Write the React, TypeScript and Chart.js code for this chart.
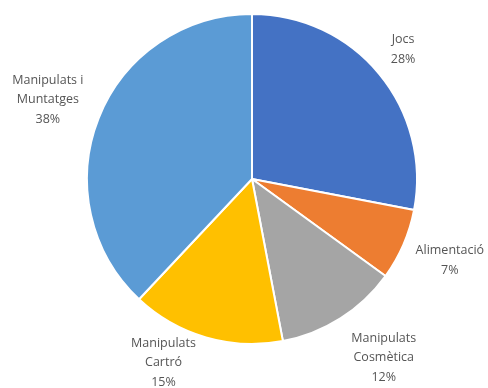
import React, { useEffect, useRef } from "react";
import { Chart, registerables } from "chart.js";

Chart.register(...registerables);

const categories: string[][] = [
  ["Jocs"],
  ["Alimentació"],
  ["Manipulats", "Cosmètica"],
  ["Manipulats", "Cartró"],
  ["Manipulats i", "Muntatges"],
];
const values: number[] = [28, 7, 12, 15, 38];
const colors: string[] = ["#4472C4", "#ED7D31", "#A5A5A5", "#FFC000", "#5B9BD5"];
// label placement: extra radial distance (px) and angle shift (deg) from slice mid-angle
const labelDr: number[] = [34, 49, 57, 39, 54];
const labelDa: number[] = [-1, -1, -4, 9.5, -0.4];

const labelPlugin = {
  id: "outerLabels",
  afterDatasetsDraw(chart: any) {
    const ctx = chart.ctx;
    const meta = chart.getDatasetMeta(0);
    const total = values.reduce((a, b) => a + b, 0);
    ctx.save();
    ctx.font = "12.5px 'Open Sans'";
    ctx.fillStyle = "#555555";
    ctx.textAlign = "center";
    ctx.textBaseline = "middle";
    meta.data.forEach((arc: any, i: number) => {
      const { x, y, startAngle, endAngle, outerRadius } = arc.getProps(
        ["x", "y", "startAngle", "endAngle", "outerRadius"],
        true
      );
      const mid = (startAngle + endAngle) / 2 + (labelDa[i] * Math.PI) / 180;
      const r = outerRadius + labelDr[i];
      const cx = x + Math.cos(mid) * r;
      const cy = y + Math.sin(mid) * r;
      const lines = [...categories[i], Math.round((values[i] / total) * 100) + "%"];
      const lh = 19.5;
      const y0 = cy - ((lines.length - 1) * lh) / 2;
      lines.forEach((t, k) => ctx.fillText(t, cx, y0 + k * lh));
    });
    ctx.restore();
  },
};

export default function App() {
  const ref = useRef<HTMLCanvasElement | null>(null);
  useEffect(() => {
    if (!ref.current) return;
    const chart = new Chart(ref.current, {
      type: "pie",
      data: {
        labels: categories.map((c) => c.join(" ")),
        datasets: [
          {
            data: values,
            backgroundColor: colors,
            borderColor: "#ffffff",
            borderWidth: 2,
          },
        ],
      },
      options: {
        responsive: false,
        animation: false,
        layout: { padding: { left: 86, right: 70, top: 13, bottom: 43 } },
        plugins: {
          legend: { display: false },
          tooltip: { enabled: false },
        },
      },
      plugins: [labelPlugin],
    });
    return () => chart.destroy();
  }, []);
  return (
    <div style={{ position: "fixed", left: 0, top: 0, width: 488, height: 388, background: "#fff" }}>
      <canvas ref={ref} width={488} height={388} />
    </div>
  );
}
